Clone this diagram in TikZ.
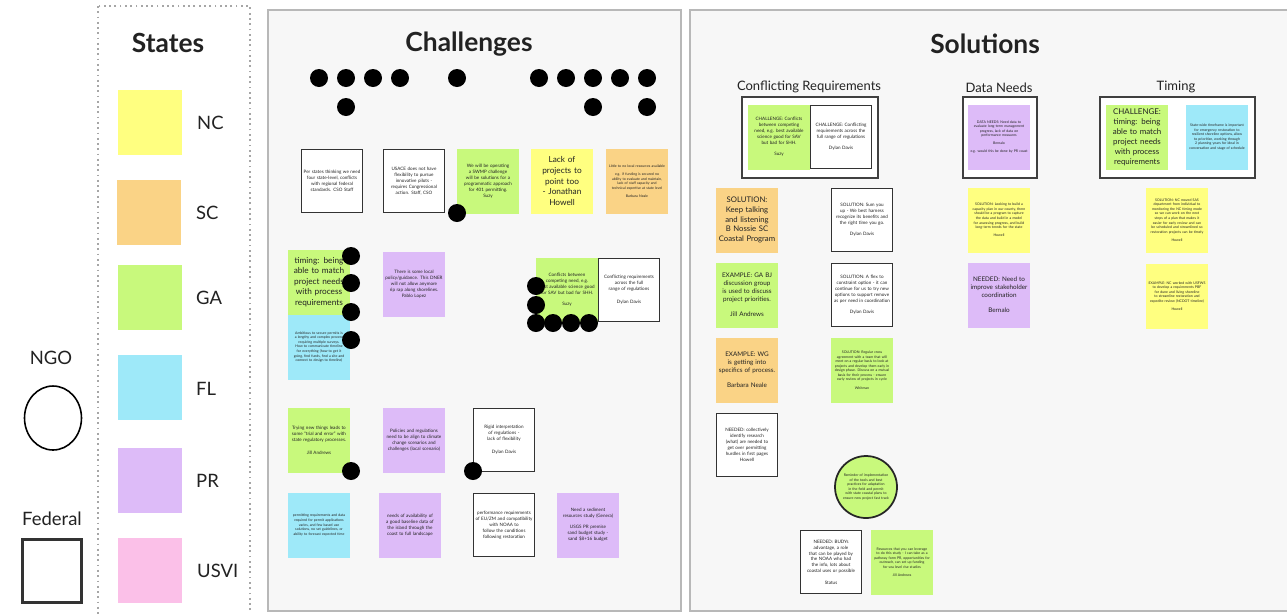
\documentclass[tikz,border=0pt]{standalone}
\usepackage{fontspec}
\setmainfont{Lato}
\usetikzlibrary{shapes.geometric}

\hyphenpenalty=10000
\exhyphenpenalty=10000

\definecolor{ncyellow}{HTML}{FFFF80}
\definecolor{scorange}{HTML}{FAD386}
\definecolor{gagreen}{HTML}{C8F97C}
\definecolor{flcyan}{HTML}{9EE9F9}
\definecolor{prpurple}{HTML}{DDBBF8}
\definecolor{usvipink}{HTML}{FBC0E8}
\definecolor{panelgray}{HTML}{F7F7F7}
\definecolor{paneledge}{HTML}{B8B8B8}
\definecolor{inkgray}{HTML}{222222}

\tikzset{
  panel/.style={fill=panelgray, draw=paneledge, line width=1.2pt},
  legendbox/.style={draw=gray!70, dotted, line width=1pt},
  title/.style={font=\fontsize{15}{18}\selectfont\bfseries, text=inkgray},
  subtitle/.style={font=\fontsize{7.4}{9}\selectfont, text=inkgray},
  lbl/.style={font=\fontsize{10.5}{12}\selectfont, text=inkgray},
  swatch/.style={minimum width=1.28cm, minimum height=1.3cm, inner sep=0pt},
  note/.style={minimum width=1.24cm, minimum height=1.3cm, inner sep=1pt,
    text width=1.15cm, align=center, text=inkgray},
  fed/.style={note, fill=white, draw=black!80, line width=1.1pt,
    minimum width=1.2cm, minimum height=1.26cm},
  groupbox/.style={fill=white, draw=black!75, line width=1.5pt},
  dot/.style={circle, fill=black, minimum size=0.36cm, inner sep=0pt},
  bigtxt/.style={font=\fontsize{4.7}{6}\selectfont},
  midtxt/.style={font=\fontsize{3.6}{4.6}\selectfont},
  smalltxt/.style={font=\fontsize{2.6}{3.4}\selectfont},
  tinytxt/.style={font=\fontsize{2}{2.6}\selectfont}
}

\begin{document}
\begin{tikzpicture}[x={(0.02cm,0)}, y={(0,-0.02cm)}]
    \path[use as bounding box, clip] (0,0) rectangle (1287,613);
    \fill[white] (0,0) rectangle (1287,613);

    % legend
    \draw[legendbox] (98,6) rectangle (250,630);
    \node[title] (states) at (168,43) {States};
    \node[swatch, fill=ncyellow] (ncbox) at (150,122) {};
    \node[swatch, fill=scorange] (scbox) at (149,212) {};
    \node[swatch, fill=gagreen] (gabox) at (150,297) {};
    \node[swatch, fill=flcyan] (flbox) at (150,387) {};
    \node[swatch, fill=prpurple] (prbox) at (150,480) {};
    \node[swatch, fill=usvipink] (usvibox) at (150,570) {};
    \node[lbl, anchor=west] (nclbl) at (191,123) {NC};
    \node[lbl, anchor=west] (sclbl) at (190,213) {SC};
    \node[lbl, anchor=west] (galbl) at (190,298) {GA};
    \node[lbl, anchor=west] (fllbl) at (190,389) {FL};
    \node[lbl, anchor=west] (prlbl) at (190,481) {PR};
    \node[lbl, anchor=west] (usvilbl) at (191,571) {USVI};

    \node[lbl] (ngolbl) at (51,358) {NGO};
    \node[ellipse, draw=black, line width=0.9pt, fill=white, minimum width=1.14cm, minimum height=1.28cm] (ngo) at (53,418) {};
    \node[lbl] (fedlbl) at (52,519) {Federal};
    \node[draw=black!80, line width=1.2pt, fill=white, minimum width=1.18cm, minimum height=1.26cm] (fedbox) at (52,571) {};

    % challenges
    \filldraw[panel] (268,10) rectangle (681,611);
    \node[title] (chtitle) at (469,44) {Challenges};

    \node[dot] (dot1) at (319,78) {};
    \node[dot] (dot2) at (346,78) {};
    \node[dot] (dot3) at (373,78) {};
    \node[dot] (dot4) at (400,78) {};
    \node[dot] (dot5) at (457,78) {};
    \node[dot] (dot6) at (539,78) {};
    \node[dot] (dot7) at (566,78) {};
    \node[dot] (dot8) at (593,78) {};
    \node[dot] (dot9) at (620,78) {};
    \node[dot] (dot10) at (647,78) {};
    \node[dot] (dot11) at (346,107) {};
    \node[dot] (dot12) at (593,107) {};
    \node[dot] (dot13) at (647,107) {};

    \node[fed, smalltxt] (ch1) at (332,181) {Per states thinking we need four state-level, conflicts with regional federal standards. CSO Staff};
    \node[fed, smalltxt] (ch2) at (414,181) {USACE does not have flexibility to pursue innovative pilots - requires Congressional action. Staff, CSO};
    \node[note, fill=gagreen, smalltxt] (ch3) at (488,181) {We will be operating a SWMP challenge will be solutions for a programmatic approach for 401 permitting.\\ Suzy};
    \node[note, fill=ncyellow, bigtxt] (ch4) at (562,181) {Lack of projects to point too - Jonathan Howell};
    \node[note, fill=scorange, tinytxt] (ch5) at (637,181) {Little to no local resources available\\[2pt] e.g. if funding is secured no ability to evaluate and maintain, lack of staff capacity and technical expertise at state level\\[2pt] Barbara Neale};
    \node[dot] (dot14) at (457,213) {};

    \node[note, fill=gagreen, bigtxt] (ch6) at (319,282) {timing: being able to match project needs with process requirements};
    \node[note, fill=flcyan, tinytxt] (ch7) at (319,347) {Ambitious to secure permits is a lengthy and complex process requiring multiple surveys. How to communicate timeline for everything (how to get it going, find funds, find a site and connect to design to timeline)};
    \node[dot] (dot15) at (351,256) {};
    \node[dot] (dot16) at (351,283) {};
    \node[dot] (dot17) at (351,312) {};
    \node[dot] (dot18) at (351,340) {};
    \node[note, fill=prpurple, smalltxt] (ch8) at (414,284) {There is some local policy/guidance. This DNER will not allow anymore rip rap along shorelines.\\ Pablo Lopez};
    \node[note, fill=gagreen, smalltxt] (ch9) at (567,290) {Conflicts between competing need, e.g. best available science good for SAV but bad for SHH.\\[3pt] Suzy};
    \node[fed, smalltxt] (ch10) at (629,290) {Conflicting requirements across the full range of regulations\\[4pt] Dylan Davis};
    \node[dot] (dot19) at (536,286) {};
    \node[dot] (dot20) at (536,305) {};
    \node[dot] (dot21) at (536,323) {};
    \node[dot] (dot22) at (553,323) {};
    \node[dot] (dot23) at (571,323) {};
    \node[dot] (dot24) at (589,323) {};

    \node[note, fill=gagreen, smalltxt] (ch11) at (319,440) {Trying new things leads to some ``trial and error'' with state regulatory processes.\\[4pt] Jill Andrews};
    \node[note, fill=prpurple, smalltxt] (ch12) at (414,440) {Policies and regulations need to be align to climate change scenarios and challenges (local scenario)};
    \node[fed, smalltxt] (ch13) at (504,440) {Rigid interpretation of regulations - lack of flexibility\\[4pt] Dylan Davis};
    \node[dot] (dot25) at (351,471) {};
    \node[dot] (dot26) at (473,471) {};

    \node[note, fill=flcyan, tinytxt] (ch14) at (319,525) {permitting requirements and data required for permit applications varies, and few based use solutions, no set guidelines, or ability to forecast expected time};
    \node[note, fill=prpurple, smalltxt] (ch15) at (410,525) {needs of availability of a good baseline data of the island through the coast to full landscape};
    \node[fed, smalltxt] (ch16) at (504,525) {performance requirements of EU/ZM and compatibility with NOAA to follow the conditions following restoration};
    \node[note, fill=prpurple, smalltxt] (ch17) at (588,525) {Need a sediment resources study (Genera)\\[3pt] USGS PR premise sand budget study - sand \$8+16 budget};

    % solutions
    \filldraw[panel] (690,10) rectangle (1300,611);
    \node[title] (sotitle) at (985,44) {Solutions};

    \node[subtitle] (crtitle) at (809,87) {Conflicting Requirements};
    \node[subtitle] (dntitle) at (999,88) {Data Needs};
    \node[subtitle] (tititle) at (1176,87) {Timing};
    \filldraw[groupbox] (742,97) rectangle (878,178);
    \filldraw[groupbox] (963,97) rectangle (1037,178);
    \filldraw[groupbox] (1100,97) rectangle (1255,178);

    \node[note, fill=gagreen, smalltxt] (so1) at (779,137) {CHALLENGE: Conflicts between competing need, e.g. best available science good for SAV but bad for SHH.\\[3pt] Suzy};
    \node[fed, smalltxt] (so2) at (841,137) {CHALLENGE: Conflicting requirements across the full range of regulations\\[3pt] Dylan Davis};
    \node[note, fill=prpurple, tinytxt] (so3) at (999,137) {DATA NEEDS: Need data to evaluate long-term management progress, lack of data on performance measures\\[2pt] Bernalo\\[2pt] e.g. would this be done by PR coast};
    \node[note, fill=gagreen, font=\fontsize{4.5}{5.7}\selectfont] (so4) at (1137,137) {CHALLENGE: timing: being able to match project needs with process requirements};
    \node[note, fill=flcyan, tinytxt] (so5) at (1217,137) {State-wide timeframe is important for emergency restoration to resilient shoreline options, allow to prioritize, working through 2 planning years for ideal in conversation and stage of schedule};

    \node[note, fill=scorange, font=\fontsize{4.4}{5.6}\selectfont] (so6) at (747,220) {SOLUTION: Keep talking and listening B Nossie SC Coastal Program};
    \node[fed, smalltxt] (so7) at (862,220) {SOLUTION: Sum you up - We best harness recognize its benefits and the right time you go.\\[3pt] Dylan Davis};
    \node[note, fill=gagreen, midtxt] (so8) at (747,295) {EXAMPLE: GA BJ discussion group is used to discuss project priorities.\\[4pt] Jill Andrews};
    \node[fed, smalltxt] (so9) at (862,295) {SOLUTION: A flex to constraint option - it can continue for us to try new options to support remove as per need in coordination\\[3pt] Dylan Davis};
    \node[note, fill=scorange, midtxt] (so10) at (747,370) {EXAMPLE: WG is getting into specifics of process.\\[4pt] Barbara Neale};
    \node[note, fill=gagreen, tinytxt] (so11) at (862,370) {SOLUTION: Regular cross agreement with a team that will meet on a regular basis to look at projects and develop them early in design phase. Discuss on a mutual basis for their process - ensure early review of projects in cycle\\[2pt] Whitman};
    \node[fed, smalltxt] (so12) at (747,445) {NEEDED: collectively identify research (what) are needed to get over permitting hurdles in first pages\\ Howell};
    \node[circle, draw=black!85, line width=1pt, fill=gagreen, minimum size=1.24cm, inner sep=0pt, text width=0.95cm, align=center, tinytxt, text=inkgray] (so13) at (866,487) {Reminder of implementation of the tools and best practices for adaptation in the field and permit with state coastal plans to ensure new project fast track};
    \node[fed, smalltxt] (so14) at (831,562) {NEEDED: BUDYs advantage, a role that can be played by the NOAA who had the info, lots about coastal uses or possible\\[3pt] Status};
    \node[note, fill=gagreen, tinytxt] (so15) at (902,562) {Resources that you can leverage to do this study - I can take as a pathway form PR, opportunities for outreach, can set up funding for sea level rise studies\\[2pt] Jill Andrews};

    \node[note, fill=ncyellow, tinytxt] (so16) at (999,220) {SOLUTION: Looking to build a capacity plan in our county, there should be a program to capture the data and build in a model for assessing progress, and build long-term trends for the state\\[2pt] Howell};
    \node[note, fill=prpurple, midtxt] (so17) at (999,295) {NEEDED: Need to improve stakeholder coordination\\[4pt] Bernalo};
    \node[note, fill=ncyellow, tinytxt] (so18) at (1177,220) {SOLUTION: NC moved SAS department from individual to monitoring the NC timing mode so we can work on the next steps of a plan that makes it easier for early review and can be scheduled and streamlined so restoration projects can be timely\\[2pt] Howell};
    \node[note, fill=ncyellow, tinytxt] (so19) at (1177,296) {EXAMPLE: NC worked with USFWS to develop a requirements PBF for dune and living shoreline to streamline restoration and expedite review (NCDOT timeline)\\[2pt] Howell};
\end{tikzpicture}
\end{document}
